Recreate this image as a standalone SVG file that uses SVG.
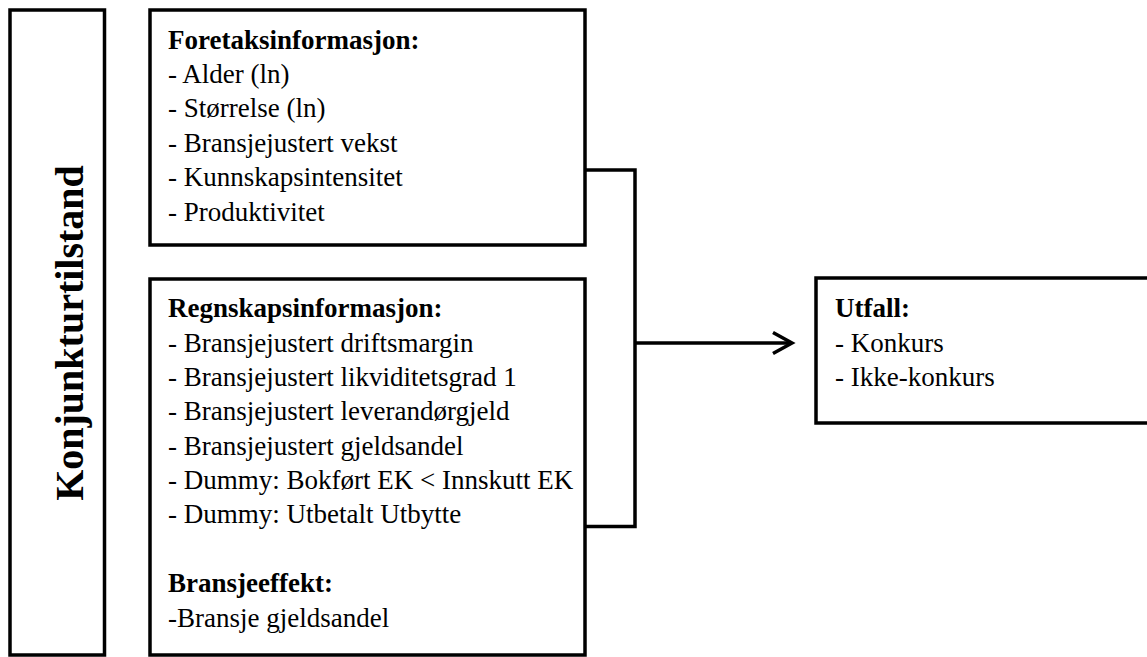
<svg xmlns="http://www.w3.org/2000/svg" width="1147" height="657" viewBox="0 0 1147 657">
<style>
.box{fill:#fff;stroke:#000;stroke-width:3.5}
.conn{fill:none;stroke:#000;stroke-width:3.5}
.t{font-family:"Liberation Serif","Times New Roman",serif;font-size:27px;fill:#000}
.b{font-weight:bold}
.v{font-family:"Liberation Serif","Times New Roman",serif;font-size:40px;font-weight:bold;fill:#000}
</style>
<rect width="1147" height="657" fill="#fff"/>
<g id="konjunktur">
<rect class="box" x="10" y="10" width="94.5" height="645"/>
<text class="v" transform="translate(83,333) rotate(-90)" text-anchor="middle">Konjunkturtilstand</text>
</g>
<g id="foretak">
<rect class="box" x="150" y="10" width="435" height="235"/>
<text class="t" x="168"><tspan class="b" x="168" y="48.5">Foretaksinformasjon:</tspan><tspan x="168" y="82.9">- Alder (ln)</tspan><tspan x="168" y="117.3">- Størrelse (ln)</tspan><tspan x="168" y="151.7">- Bransjejustert vekst</tspan><tspan x="168" y="186.1">- Kunnskapsintensitet</tspan><tspan x="168" y="220.5">- Produktivitet</tspan></text>
</g>
<g id="regnskap">
<rect class="box" x="150" y="279" width="435" height="376"/>
<text class="t" x="168"><tspan class="b" x="168" y="317">Regnskapsinformasjon:</tspan><tspan x="168" y="351.5">- Bransjejustert driftsmargin</tspan><tspan x="168" y="386">- Bransjejustert likviditetsgrad 1</tspan><tspan x="168" y="420.3">- Bransjejustert leverandørgjeld</tspan><tspan x="168" y="454.6">- Bransjejustert gjeldsandel</tspan><tspan x="168" y="489">- Dummy: Bokført EK &lt; Innskutt EK</tspan><tspan x="168" y="523.4">- Dummy: Utbetalt Utbytte</tspan><tspan class="b" x="168" y="592">Bransjeeffekt:</tspan><tspan x="168" y="626.5">-Bransje gjeldsandel</tspan></text>
</g>
<g id="utfall">
<rect class="box" x="816" y="278" width="360" height="145"/>
<text class="t" x="835"><tspan class="b" x="835" y="317">Utfall:</tspan><tspan x="835" y="351.5">- Konkurs</tspan><tspan x="835" y="386">- Ikke-konkurs</tspan></text>
</g>
<g id="connectors">
<polyline class="conn" points="585,170 635,170 635,526.5 585,526.5"/>
<line class="conn" x1="635" y1="343" x2="790" y2="343"/>
<polyline class="conn" points="773,332.5 792,343 773,353.5"/>
</g>
</svg>
